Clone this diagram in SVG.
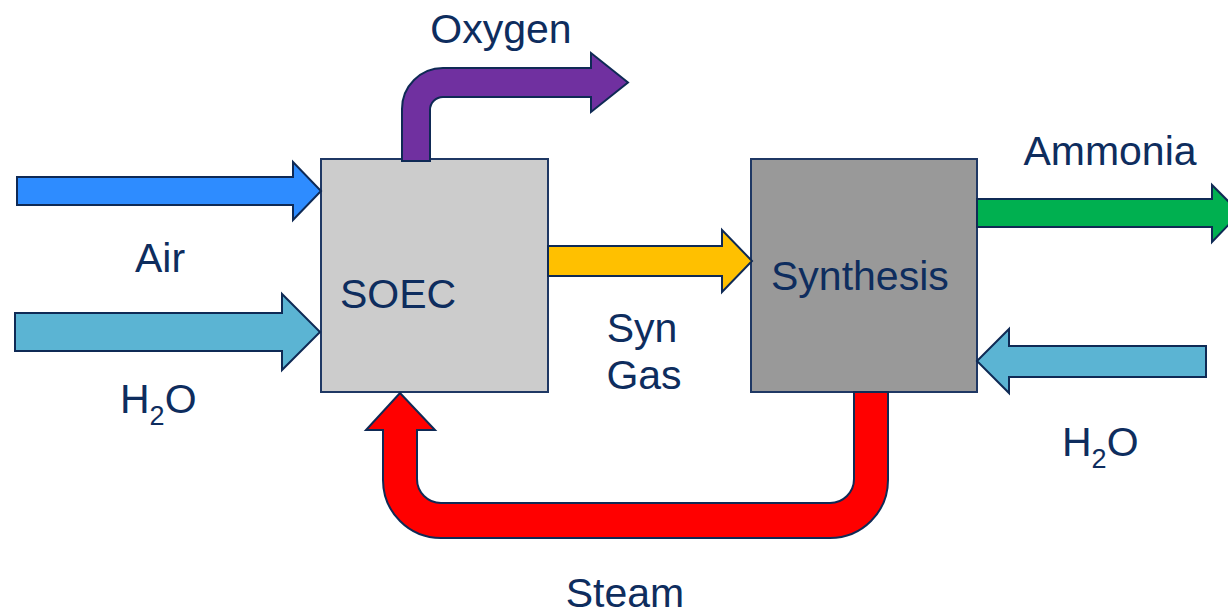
<svg xmlns="http://www.w3.org/2000/svg" width="1228" height="616" viewBox="0 0 1228 616">
<style>
.box{stroke:#1f3864;stroke-width:2}
.arr{stroke:#0f2a55;stroke-width:2;stroke-linejoin:miter}
.t{font-family:"Liberation Sans",Arial,sans-serif;font-size:41px;fill:#0e2d5e}
.sub{font-size:27px}
</style>
<rect width="1228" height="616" fill="#ffffff"/>
<g id="soec">
<rect class="box" x="321" y="159" width="227" height="233" fill="#cccccc"/>
<text class="t" x="340" y="308">SOEC</text>
</g>
<g id="synthesis">
<rect class="box" x="751" y="159" width="226" height="233" fill="#999999"/>
<text class="t" x="771" y="290">Synthesis</text>
</g>
<g id="connectors">
<path id="air" class="arr" fill="#2e8cff" d="M17,177 L293,177 L293,162 L321,191 L293,220 L293,205 L17,205 Z"/>
<path id="h2o-in" class="arr" fill="#5bb4d3" d="M15,313 L282,313 L282,294 L320,332 L282,370 L282,351 L15,351 Z"/>
<path id="oxygen" class="arr" fill="#7030a0" d="M402,161 L402,109 A41,41 0 0 1 443,68 L591,68 L591,53 L628,82.5 L591,112 L591,97 L443,97 A13,13 0 0 0 430,110 L430,161 Z"/>
<path id="syngas" class="arr" fill="#ffc000" d="M548,246 L722,246 L722,230 L752,261 L722,292 L722,276 L548,276 Z"/>
<path id="ammonia" class="arr" fill="#00b050" d="M977,199 L1212,199 L1212,185 L1240,213 L1212,242 L1212,227 L977,227 Z"/>
<path id="h2o-syn" class="arr" fill="#5bb4d3" d="M1206,346 L1009,346 L1009,329 L977,361 L1009,393 L1009,377 L1206,377 Z"/>
<path id="steam" class="arr" fill="#ff0000" d="M854,392 L854,479 A24,24 0 0 1 830,503 L441,503 A24,24 0 0 1 417,479 L417,430 L435,430 L400,393 L366,430 L383,430 L383,480 A58,58 0 0 0 441,538 L830,538 A58,58 0 0 0 888,480 L888,392 Z"/>
</g>
<g id="labels">
<text class="t" x="501" y="43" text-anchor="middle">Oxygen</text>
<text class="t" x="160" y="272" text-anchor="middle">Air</text>
<text class="t" x="120" y="413">H<tspan class="sub" dy="12">2</tspan><tspan dy="-12">O</tspan></text>
<text class="t" x="642" y="342" text-anchor="middle">Syn</text>
<text class="t" x="644" y="389" text-anchor="middle">Gas</text>
<text class="t" x="1110" y="165" text-anchor="middle">Ammonia</text>
<text class="t" x="1062" y="456">H<tspan class="sub" dy="12">2</tspan><tspan dy="-12">O</tspan></text>
<text class="t" x="625" y="607" text-anchor="middle">Steam</text>
</g>
</svg>
